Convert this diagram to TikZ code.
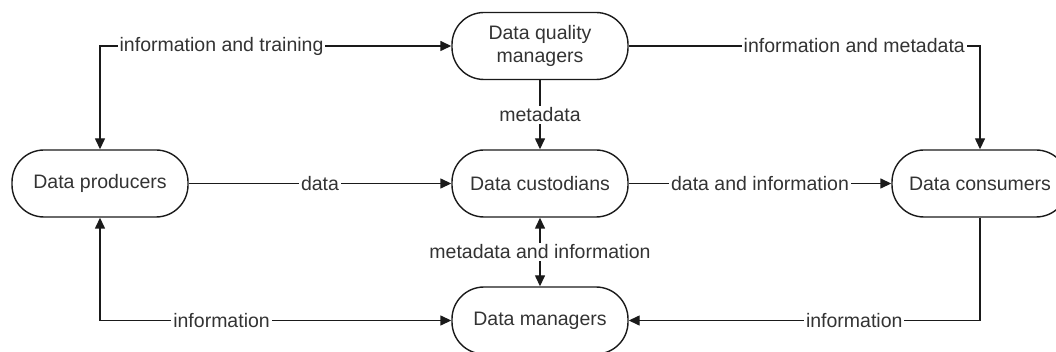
\documentclass[tikz,border=0pt]{standalone}
\usepackage{fontspec}
\setmainfont{Liberation Sans}
\usetikzlibrary{arrows.meta}
\definecolor{linec}{HTML}{1A1A1A}
\definecolor{textc}{HTML}{333333}
\begin{document}
\begin{tikzpicture}[x=1pt,y=-1pt,
  box/.style={draw=linec, line width=1.4pt, rounded corners=32pt, minimum width=176pt, minimum height=67pt, align=center, text=textc, font=\fontsize{19.5}{23}\selectfont, inner sep=0pt},
  lbl/.style={fill=white, text=textc, font=\fontsize{19.5}{23}\selectfont, inner sep=2pt},
  conn/.style={draw=linec, line width=1.4pt},
  tip/.style={-{Triangle[length=11pt,width=10pt]}},
  both/.style={{Triangle[length=11pt,width=10pt]}-{Triangle[length=11pt,width=10pt]}}]
\useasboundingbox (0,0) rectangle (1056,352);
\clip (0,0) rectangle (1056,352);
\node[box] (dqm) at (540,46) {Data quality\\managers};
\node[box] (prod) at (100,183.5) {Data producers};
\node[box] (cust) at (540,183.5) {Data custodians};
\node[box] (cons) at (980,183.5) {Data consumers};
\node[box] (man) at (540,320.5) {Data managers};
\draw[conn, both] (prod.north) |- node[lbl, pos=0.673] {information and training} (dqm.west);
\draw[conn, tip] (dqm.east) -| node[lbl, pos=0.321] {information and metadata} (cons.north);
\draw[conn, tip] (dqm.south) -- node[lbl] {metadata} (cust.north);
\draw[conn, tip] (prod.east) -- node[lbl] {data} (cust.west);
\draw[conn, tip] (cust.east) -- node[lbl] {data and information} (cons.west);
\draw[conn, both] (cust.south) -- node[lbl] {metadata and information} (man.north);
\draw[conn, both] (prod.south) |- node[lbl, pos=0.673] {information} (man.west);
\draw[conn, tip] (cons.south) |- node[lbl, pos=0.679] {information} (man.east);
\end{tikzpicture}
\end{document}
